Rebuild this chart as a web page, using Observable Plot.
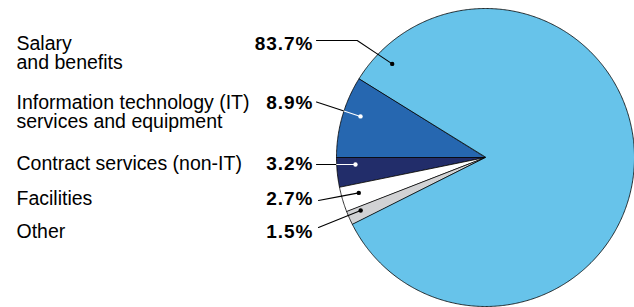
<!DOCTYPE html>
<html><head><meta charset="utf-8">
<script src="https://cdn.jsdelivr.net/npm/d3@7"></script>
<script src="https://cdn.jsdelivr.net/npm/@observablehq/plot@0.6"></script>
<style>
html,body{margin:0;padding:0;background:#fff;}
#chart svg{display:block;}
</style></head><body><div id="chart"></div>
<script>
// ---- data ----
const categories = ["Salary and benefits", "Information technology (IT) services and equipment", "Contract services (non-IT)", "Facilities", "Other"];
const labelText = ["Salary\nand benefits", "Information technology (IT)\nservices and equipment", "Contract services (non-IT)", "Facilities", "Other"];
const shares = [83.7, 8.9, 3.2, 2.7, 1.5];
const pctText = ["83.7%", "8.9%", "3.2%", "2.7%", "1.5%"];
const sliceColors = ["#67c3ea", "#2667b0", "#222d6a", "#ffffff", "#d1d2d4"];

// ---- layout ----
const W = 634, H = 307, R = 149, CX = 485, CY = 157;
const FS = 19.5, FSB = 19;
const labelX = 16, pctX = 313;
const baselines = [49, 108, 169, 204, 237];
const leaderStart = [[316, 40], [316, 101.5], [316, 164], [318, 200], [318, 227]];
const leaderElbow = [[356.7, 40], null, null, null, null];
const dotPolar = [[134.9, 0.887], [161.8, 0.883], [183.1, 0.874], [195.6, 0.883], [203, 0.91]];
const insideColor = ["black", "white", "white", "black", "black"];

const toX = px => (px - CX) / R, toY = py => (CY - py) / R;
const rad = d => d * Math.PI / 180;

// ---- slices (IT first, ending at 9 o'clock, counterclockwise) ----
const order = [1, 2, 3, 4, 0];
const total = d3.sum(shares);
let ang = 180 - shares[1] / total * 360;
const slicePts = [];
for (const i of order) {
  const a0 = ang, a1 = ang + shares[i] / total * 360; ang = a1;
  slicePts.push({k: categories[i], x: 0, y: 0});
  const n = Math.max(2, Math.ceil((a1 - a0) / 0.5));
  for (let j = 0; j <= n; j++) {
    const t = rad(a0 + (a1 - a0) * j / n);
    slicePts.push({k: categories[i], x: Math.cos(t), y: Math.sin(t)});
  }
}

// ---- leaders ----
const leaderPts = [], dots = [];
categories.forEach((c, i) => {
  const P = [toX(leaderStart[i][0]), toY(leaderStart[i][1])];
  const E = leaderElbow[i] ? [toX(leaderElbow[i][0]), toY(leaderElbow[i][1])] : P;
  const [da, dr] = dotPolar[i];
  const D = [dr * Math.cos(rad(da)), dr * Math.sin(rad(da))];
  const d = [D[0] - E[0], D[1] - E[1]];
  const a = d[0] ** 2 + d[1] ** 2, b = 2 * (E[0] * d[0] + E[1] * d[1]), cc = E[0] ** 2 + E[1] ** 2 - 1;
  const t = (-b - Math.sqrt(b * b - 4 * a * cc)) / (2 * a);
  const I = [E[0] + t * d[0], E[1] + t * d[1]];
  const kOut = c + "-out", kIn = c + "-in";
  leaderPts.push({k: kOut, col: "black", x: P[0], y: P[1]});
  if (leaderElbow[i]) leaderPts.push({k: kOut, col: "black", x: E[0], y: E[1]});
  leaderPts.push({k: kOut, col: "black", x: I[0], y: I[1]});
  leaderPts.push({k: kIn, col: insideColor[i], x: I[0], y: I[1]});
  leaderPts.push({k: kIn, col: insideColor[i], x: D[0], y: D[1]});
  dots.push({x: D[0], y: D[1], col: insideColor[i]});
});

const labels = categories.map((c, i) => ({t: labelText[i], p: pctText[i], b: baselines[i]}));
const font = "Liberation Sans, Arial, Helvetica, sans-serif";

const chart = Plot.plot({
  width: W, height: H,
  margin: 0,
  x: {domain: [toX(0), toX(W)], axis: null},
  y: {domain: [toY(H), toY(0)], axis: null},
  color: {domain: categories, range: sliceColors},
  style: {fontFamily: font, background: "white"},
  marks: [
    Plot.line(slicePts, {x: "x", y: "y", z: "k", fill: "k", stroke: "black", strokeWidth: 0.8, curve: "linear-closed", strokeLinejoin: "round"}),
    Plot.line(leaderPts, {x: "x", y: "y", z: "k", stroke: d => d.col, strokeWidth: 1.1}),
    Plot.dot(dots, {x: "x", y: "y", r: 2.2, fill: d => d.col, stroke: "none"}),
    Plot.text(labels, {x: toX(labelX), y: d => toY(d.b - 0.71 * FS), text: "t", textAnchor: "start", lineAnchor: "top", lineHeight: 1, fontSize: FS, fill: "black"}),
    Plot.text(labels, {x: toX(pctX), y: d => toY(d.b - 0.71 * FSB), text: "p", textAnchor: "end", lineAnchor: "top", lineHeight: 1, fontSize: FSB, fontWeight: "bold", fill: "black", ariaLabel: "pct"})
  ]
});
d3.select(chart).selectAll("text").filter(function () { return /%$/.test(this.textContent); })
  .style("letter-spacing", "1px");
document.getElementById("chart").appendChild(chart);
</script></body></html>
